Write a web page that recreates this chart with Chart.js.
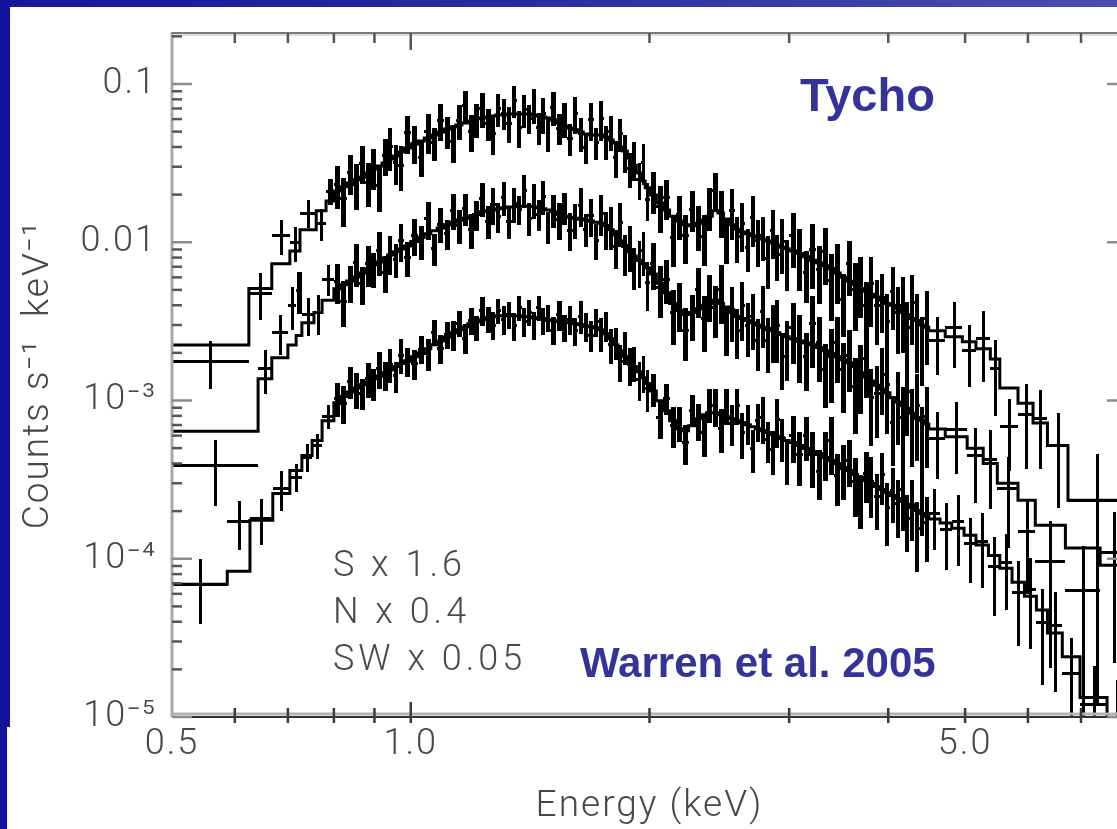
<!DOCTYPE html>
<html>
<head>
<meta charset="utf-8">
<script src="https://cdn.jsdelivr.net/npm/chart.js@4.4.1/dist/chart.umd.min.js"></script>
<style>
  html, body { margin: 0; padding: 0; background: #ffffff; overflow: hidden; width: 1117px; height: 829px; }
  #wrap { position: absolute; left: 0; top: 0; width: 1140px; height: 829px; }
  .frameTop { position: absolute; left: 0; top: 0; width: 1117px; height: 7px;
              background: linear-gradient(90deg, #16169a 0%, #2a2aa0 45%, #4d4dae 100%); }
  .frameLeft { position: absolute; left: 0; top: 0; width: 10px; height: 727px; background: #12129a; }
  .frameLeft2 { position: absolute; left: 0; top: 727px; width: 7px; height: 102px; background: #12129a; }
</style>
</head>
<body>
<div id="wrap"><canvas id="c" width="1140" height="829"></canvas></div>
<div class="frameTop"></div><div class="frameLeft"></div><div class="frameLeft2"></div>
<script>
// ---------------- DATA ----------------
// shared narrow bin edges (keV) of the densely sampled part of the spectra
const energyGrid = [
  0.800, 0.815, 0.830, 0.845, 0.860, 0.875, 0.890, 0.905, 0.920, 0.935, 0.950, 0.965, 0.980, 1.000,
  1.02, 1.04, 1.06, 1.08, 1.10, 1.12, 1.14, 1.16, 1.18, 1.20, 1.22, 1.24, 1.26, 1.28, 1.30,
  1.32, 1.34, 1.36, 1.38, 1.40, 1.42, 1.44, 1.46, 1.48, 1.50,
  1.525, 1.55, 1.575, 1.60, 1.625, 1.65, 1.675, 1.70, 1.725, 1.75, 1.775, 1.80, 1.825, 1.85,
  1.875, 1.90, 1.925, 1.95, 1.975, 2.00,
  2.04, 2.08, 2.12, 2.16, 2.20, 2.24, 2.28, 2.32, 2.36, 2.40, 2.44, 2.48, 2.52, 2.56, 2.60,
  2.64, 2.68, 2.72, 2.76, 2.80, 2.84, 2.88, 2.92, 2.96, 3.00,
  3.06, 3.12, 3.18, 3.24, 3.30, 3.36, 3.42, 3.48, 3.54, 3.60, 3.66, 3.72, 3.78, 3.84, 3.90,
  3.96, 4.02, 4.08, 4.14, 4.20, 4.26, 4.32, 4.38, 4.44, 4.50
];

// ---- S x 1.6 (upper spectrum) ----
const sLowEdges  = [0.5, 0.625, 0.668, 0.704, 0.725, 0.760, 0.782];
const sHighEdges = [4.72, 4.96, 5.16, 5.38, 5.53, 5.83, 6.09, 6.35, 6.74, 8.0];
const sModel = [
  0.00224, 0.0051, 0.0073, 0.0088, 0.0120, 0.0158, 0.0182,
  0.0211, 0.0224, 0.0237, 0.0248, 0.0258, 0.0274, 0.0290, 0.0303, 0.0317, 0.0336,
  0.0351, 0.0372, 0.0394, 0.0418, 0.0436, 0.0456, 0.0476, 0.0498, 0.0520, 0.0535,
  0.0551, 0.0567, 0.0584, 0.0602, 0.0610, 0.0619, 0.0628, 0.0637, 0.0637, 0.0646,
  0.0646, 0.0646, 0.0646, 0.0646, 0.0637, 0.0628, 0.0619, 0.0610, 0.0593, 0.0567,
  0.0543, 0.0528, 0.0513, 0.0498, 0.0483, 0.0476, 0.0476, 0.0476, 0.0462, 0.0442,
  0.0424, 0.0400, 0.0377, 0.0341, 0.0307, 0.0274, 0.0244, 0.0221, 0.0199, 0.0177,
  0.0160, 0.0146, 0.0136, 0.0129, 0.0127, 0.0132, 0.0138, 0.0146, 0.0158, 0.0153,
  0.0140, 0.0129, 0.0121, 0.0116, 0.0113, 0.0110, 0.0108, 0.0105, 0.0102, 0.0099,
  0.0096, 0.0093, 0.0091, 0.0088, 0.0085, 0.0081, 0.0077, 0.0074, 0.0071, 0.0068,
  0.0064, 0.0060, 0.0057, 0.0054, 0.0051, 0.0049, 0.0047, 0.0045, 0.0043, 0.0041,
  0.0040, 0.0038, 0.0036, 0.0035, 0.0033, 0.0032, 0.0030, 0.0029,
  0.00276, 0.00253, 0.00235, 0.00212, 0.00183, 0.00120, 0.00096, 0.00072, 0.00052, 0.000234
];
const sData = [
  0.00178, 0.0048, 0.0111, 0.0100, 0.0153, 0.0132, 0.0211,
  0.0233, 0.0190, 0.0277, 0.0235, 0.0319, 0.0241, 0.0300, 0.0231, 0.0355, 0.0405,
  0.0321, 0.0309, 0.0494, 0.0425, 0.0347, 0.0503, 0.0427, 0.0591, 0.0502, 0.0435,
  0.0588, 0.0741, 0.0505, 0.0602, 0.0703, 0.0566, 0.0489, 0.0702, 0.0659, 0.0569,
  0.0789, 0.0536, 0.0690, 0.0613, 0.0745, 0.0532, 0.0651, 0.0486, 0.0714, 0.0528,
  0.0608, 0.0456, 0.0653, 0.0490, 0.0401, 0.0600, 0.0427, 0.0610, 0.0438, 0.0502,
  0.0345, 0.0488, 0.0377, 0.0295, 0.0338, 0.0251, 0.0323, 0.0187, 0.0215, 0.0170,
  0.0192, 0.0108, 0.0150, 0.0111, 0.0163, 0.0129, 0.0110, 0.0169, 0.0215, 0.0159,
  0.0106, 0.0160, 0.0109, 0.0132, 0.0093, 0.0145, 0.0104, 0.0111, 0.0080, 0.0119,
  0.0084, 0.0102, 0.0076, 0.0111, 0.0085, 0.0065, 0.0091, 0.0068, 0.0088, 0.0058,
  0.0069, 0.0044, 0.0074, 0.0051, 0.0057, 0.0040, 0.0055, 0.0040, 0.0045, 0.0032,
  0.0049, 0.0036, 0.0040, 0.0029, 0.0042, 0.0031, 0.0023, 0.0033,
  0.0024, 0.0029, 0.0021, 0.0025, 0.0016, 0.00069, 0.00082, 0.00077, 0.00052, 0.000234
];
const sErrPct = [
  34, 33, 25, 25, 20, 23, 19,
  30, 34, 28, 32, 27, 31, 29, 33, 26, 30, 28, 32, 27,
  27, 25, 28, 24, 26, 23, 27, 25, 22, 26, 24, 25, 23, 27, 24, 22, 25, 23, 26, 24, 21, 25, 23, 26, 24,
  24, 22, 25, 23, 26, 24, 22, 27, 23, 28, 24, 25, 26, 24, 27, 25, 28, 26, 29, 27,
  30, 33, 28, 35, 31, 34, 29, 32, 36, 30, 27, 33, 31, 35, 32, 34, 30, 36, 33, 31, 37, 34, 32, 38, 35,
  38, 42, 36, 44, 40, 39, 45, 41, 43, 38, 46, 42, 40, 47, 44, 41, 48, 43, 45, 50, 44, 47, 52, 46, 49,
  40, 45, 42, 48, 50, 48, 55, 52, 60, 95
];

// ---- N x 0.4 (middle spectrum) ----
const nLowEdges  = [0.5, 0.642, 0.668, 0.700, 0.717, 0.729, 0.755, 0.773];
const nHighEdges = [4.72, 5.03, 5.27, 5.49, 5.83, 6.13, 6.69, 7.40, 8.0];
const nModel = [
  0.00064, 0.00137, 0.00186, 0.00224, 0.00257, 0.0031, 0.0036, 0.0043,
  0.00508, 0.00538, 0.00570, 0.00604, 0.00640, 0.00679, 0.00720, 0.00751, 0.00796, 0.00832,
  0.00870, 0.00908, 0.00948, 0.0101, 0.0107, 0.0113, 0.0118, 0.0123, 0.0129, 0.0134,
  0.0138, 0.0142, 0.0146, 0.0150, 0.0156, 0.0158, 0.0160, 0.0163, 0.0165, 0.0167,
  0.0167, 0.0169, 0.0169, 0.0169, 0.0167, 0.0165, 0.0163, 0.0160, 0.0156, 0.0150,
  0.0146, 0.0144, 0.0142, 0.0140, 0.0138, 0.0136, 0.0134, 0.0132, 0.0127, 0.0120,
  0.0111, 0.0102, 0.0094, 0.0087, 0.0082, 0.0077, 0.0073, 0.0069, 0.0063, 0.0055,
  0.0048, 0.0041, 0.0037, 0.0035, 0.0036, 0.0038, 0.0040, 0.0041, 0.0043, 0.0041,
  0.0039, 0.0036, 0.0034, 0.0033, 0.0032, 0.0031, 0.0030, 0.0029, 0.0028, 0.00276,
  0.00268, 0.00261, 0.00253, 0.00246, 0.00238, 0.00231, 0.00225, 0.00216, 0.00206, 0.00198,
  0.00189, 0.00181, 0.00173, 0.00164, 0.00150, 0.00141, 0.00133, 0.00125, 0.00118, 0.00112,
  0.00104, 0.00098, 0.00093, 0.00089, 0.00083, 0.00078, 0.00075, 0.00071,
  0.00066, 0.00059, 0.00050, 0.00040, 0.00030, 0.000234, 0.000163, 0.000117, 0.000091
];
const nData = [
  0.00039, 0.0016, 0.0027, 0.0040, 0.0050, 0.0035, 0.0036, 0.0059,
  0.00568, 0.00428, 0.00560, 0.00748, 0.00553, 0.00737, 0.00683, 0.00891, 0.00647, 0.00860,
  0.00781, 0.01031, 0.00803, 0.0111, 0.0102, 0.0142, 0.0092, 0.0131, 0.0114, 0.0161,
  0.0129, 0.0164, 0.0121, 0.0150, 0.0190, 0.0137, 0.0174, 0.0146, 0.0193, 0.0136,
  0.0176, 0.0163, 0.0215, 0.0143, 0.0187, 0.0151, 0.0196, 0.0127, 0.0161, 0.0140,
  0.0166, 0.0120, 0.0140, 0.0173, 0.0122, 0.0148, 0.0104, 0.0154, 0.0123, 0.0128,
  0.0094, 0.0135, 0.0086, 0.0096, 0.0071, 0.0077, 0.0089, 0.0056, 0.0074, 0.0052,
  0.0059, 0.0036, 0.0041, 0.0028, 0.0035, 0.0051, 0.0033, 0.0047, 0.0039, 0.0051,
  0.0029, 0.0038, 0.0028, 0.0040, 0.0030, 0.0034, 0.0024, 0.0037, 0.0024, 0.00288,
  0.00302, 0.00190, 0.00226, 0.00292, 0.00238, 0.00192, 0.00310, 0.00234, 0.00158, 0.00190,
  0.00233, 0.00158, 0.00195, 0.00123, 0.00153, 0.00185, 0.00105, 0.00112, 0.00148, 0.00128,
  0.00073, 0.00102, 0.00079, 0.00115, 0.00078, 0.00094, 0.00061, 0.00080,
  0.00058, 0.00066, 0.00045, 0.00043, 0.00028, 0.00015, 0.0000965, 0.0000634, 0.00011
];
const nErrPct = [
  45, 31, 28, 30, 30, 27, 28, 22,
  28, 32, 26, 30, 27, 29, 25, 31, 26, 28, 24, 27, 25,
  26, 24, 27, 23, 25, 22, 26, 24, 23, 25, 22, 24, 23, 26, 22, 24, 23, 25, 21, 24, 23, 25, 22, 24, 23,
  24, 26, 23, 27, 25, 28, 24, 27, 26, 29, 27, 30, 28, 31, 29, 32, 30, 33, 31, 34,
  33, 36, 31, 38, 34, 37, 32, 35, 39, 33, 36, 40, 34, 38, 35, 41, 37, 39, 36, 42, 38, 40, 43, 39, 41,
  42, 46, 40, 48, 44, 43, 49, 45, 47, 42, 50, 46, 44, 51, 48, 45, 52, 47, 49, 54, 48, 51, 56, 50, 53,
  45, 48, 50, 52, 58, 60, 79, 90, 80
];

// ---- SW x 0.05 (lower spectrum) ----
const swLowEdges  = [0.5, 0.587, 0.627, 0.670, 0.704, 0.729, 0.751, 0.773];
const swHighEdges = [4.65, 4.81, 4.985, 5.16, 5.35, 5.53, 5.73, 5.94, 6.15, 6.35, 6.63, 6.98, 7.55, 8.0];
const swModel = [
  0.000069, 0.0000835, 0.000175, 0.000258, 0.000361, 0.000449, 0.000558, 0.000745,
  0.000967, 0.00106, 0.00113, 0.00120, 0.00126, 0.00131, 0.00137, 0.00143, 0.00150, 0.00156,
  0.00164, 0.00171, 0.00178, 0.00189, 0.00200, 0.00212, 0.00225, 0.00238, 0.00252, 0.00268,
  0.00280, 0.00292, 0.00305, 0.00315, 0.00324, 0.00333, 0.00338, 0.00343, 0.00343, 0.00343,
  0.00343, 0.00343, 0.00338, 0.00338, 0.00333, 0.00329, 0.00329, 0.00324, 0.00319, 0.00315,
  0.00310, 0.00310, 0.00305, 0.00301, 0.00296, 0.00292, 0.00288, 0.00280, 0.00264, 0.00246,
  0.00225, 0.00206, 0.00189, 0.00176, 0.00164, 0.00152, 0.00139, 0.00128, 0.00115, 0.000996,
  0.000862, 0.000745, 0.000664, 0.000645, 0.000693, 0.000767, 0.000813, 0.000837, 0.000837, 0.000813,
  0.000790, 0.000767, 0.000745, 0.000724, 0.000703, 0.000683, 0.000664, 0.000645, 0.000627, 0.000609,
  0.000591, 0.000574, 0.000558, 0.000542, 0.000519, 0.000497, 0.000476, 0.000456, 0.000436, 0.000417,
  0.000400, 0.000377, 0.000361, 0.000341, 0.000327, 0.000312, 0.000299, 0.000286, 0.000274, 0.000262,
  0.000251, 0.000240, 0.000230, 0.000220, 0.000211, 0.000202, 0.000193, 0.000185,
  0.000178, 0.000168, 0.000156, 0.000141, 0.000122, 0.000105, 0.000087, 0.000071, 0.000058,
  0.0000474, 0.000034, 0.000024, 0.0000133, 0.0000077
];
const swData = [
  0.000069, 0.000172, 0.000180, 0.000280, 0.000330, 0.000440, 0.000520, 0.000800,
  0.00104, 0.000967, 0.00133, 0.00119, 0.00112, 0.00138, 0.00128, 0.00160, 0.00145, 0.00170,
  0.00144, 0.00195, 0.00178, 0.00172, 0.00213, 0.00200, 0.00272, 0.00214, 0.00263, 0.00262,
  0.00311, 0.00250, 0.00322, 0.00291, 0.00374, 0.00329, 0.00301, 0.00373, 0.00328, 0.00351,
  0.00298, 0.00388, 0.00319, 0.00364, 0.00300, 0.00387, 0.00322, 0.00335, 0.00280, 0.00350,
  0.00290, 0.00327, 0.00278, 0.00344, 0.00296, 0.00260, 0.00317, 0.00268, 0.00299, 0.00227,
  0.00235, 0.00177, 0.00220, 0.00170, 0.00175, 0.00137, 0.00151, 0.00120, 0.00119, 0.000788,
  0.00104, 0.000703, 0.000727, 0.000547, 0.000877, 0.000752, 0.000628, 0.000948, 0.000932, 0.000674,
  0.000940, 0.000723, 0.000943, 0.000628, 0.000730, 0.000501, 0.000752, 0.000792, 0.000567, 0.000493,
  0.000759, 0.000585, 0.000431, 0.000604, 0.000460, 0.000601, 0.000458, 0.000361, 0.000469, 0.000560,
  0.000339, 0.000377, 0.000423, 0.000309, 0.000246, 0.000348, 0.000310, 0.000248, 0.000342, 0.000212,
  0.000270, 0.000226, 0.000274, 0.000182, 0.000223, 0.000156, 0.000237, 0.000171,
  0.000195, 0.000155, 0.000172, 0.000125, 0.000130, 0.000090, 0.000095, 0.000062, 0.000064,
  0.000040, 0.000038, 0.000019, 0.000012, 0.000009
];
const swErrPct = [
  44, 34, 32, 28, 20, 20, 18, 17,
  24, 27, 23, 26, 22, 25, 23, 26, 21, 24, 22, 25, 21,
  22, 20, 23, 19, 21, 20, 22, 19, 21, 20, 18, 21, 19, 20, 18, 21, 19, 20, 18, 21, 19, 20, 18, 20, 19,
  20, 22, 19, 21, 20, 23, 21, 22, 20, 24, 22, 25, 23, 26, 24, 27, 25, 28, 26, 29,
  24, 27, 22, 29, 25, 28, 23, 26, 30, 24, 27, 31, 25, 29, 26, 32, 28, 30, 27, 33, 29, 31, 34, 30, 32,
  33, 37, 31, 39, 35, 34, 40, 36, 38, 33, 41, 37, 35, 42, 39, 36, 43, 38, 40, 45, 39, 42, 47, 41, 44,
  42, 45, 48, 44, 50, 52, 50, 55, 58, 60, 62, 65, 75, 90
];

// ---- axes / labels ----
const xRange = [0.5, 8.0];
const yRange = [1e-5, 0.21];
const xTickValues = [0.5, 0.6, 0.7, 0.8, 0.9, 1, 2, 3, 4, 5, 6, 7, 8];
const xLabelValues = [0.5, 1, 5];
const xLabelTexts = ['0.5', '1.0', '5.0'];
const yDecades = [1e-5, 1e-4, 1e-3, 1e-2, 1e-1];
const yLabelTexts = ['10\u207B\u2075', '10\u207B\u2074', '10\u207B\u00B3', '0.01', '0.1'];
const scaleNotes = ['S x 1.6', 'N x 0.4', 'SW x 0.05'];

// ---------------- BUILD ----------------
const INK = '#000000';
const LW = 3;

function spectrum(name, low, high, model, data, err) {
  const edges = low.concat(energyGrid, high);
  const modelPts = model.map((v, i) => ({ x: edges[i], y: v }));
  modelPts.push({ x: edges[edges.length - 1], y: model[model.length - 1] });
  const dataPts = data.map((v, i) => ({ x: Math.sqrt(edges[i] * edges[i + 1]), y: v }));
  return [
    { label: name + ' model', data: modelPts, showLine: true, stepped: true,
      borderColor: INK, borderWidth: LW, pointRadius: 0, clip: 0 },
    { label: name + ' data', data: dataPts, showLine: false, pointRadius: 0,
      bins: { edges: edges, values: data, errPct: err } }
  ];
}

const datasets = [].concat(
  spectrum('S', sLowEdges, sHighEdges, sModel, sData, sErrPct),
  spectrum('N', nLowEdges, nHighEdges, nModel, nData, nErrPct),
  spectrum('SW', swLowEdges, swHighEdges, swModel, swData, swErrPct)
);

const labelFont = { family: 'Roboto, "Liberation Sans", "DejaVu Sans", sans-serif', size: 36, weight: 300, lineHeight: 1 };
const titleFont = { family: 'Roboto, "Liberation Sans", "DejaVu Sans", sans-serif', size: 37, weight: 300, lineHeight: 1 };
const TXT = '#474747';

function line(ctx, x0, y0, x1, y1) { ctx.beginPath(); ctx.moveTo(x0, y0); ctx.lineTo(x1, y1); ctx.stroke(); }

// crisp error-bar crosses; in the narrow-bin part the vertical strokes are widened so that
// neighbouring bars merge into the solid band seen in the original plot
const errorBars = {
  id: 'errorBars',
  afterDatasetsDraw(chart) {
    const { ctx, chartArea: a, scales: { x, y } } = chart;
    ctx.save();
    ctx.beginPath(); ctx.rect(a.left, a.top, a.right - a.left, a.bottom - a.top); ctx.clip();
    ctx.fillStyle = INK;
    chart.data.datasets.forEach(ds => {
      if (!ds.bins) return;
      const { edges, values, errPct } = ds.bins;
      for (let i = 0; i < values.length; i++) {
        const px0 = x.getPixelForValue(edges[i]);
        const px1 = x.getPixelForValue(edges[i + 1]);
        const x0 = Math.round(px0), x1 = Math.round(px1);
        const xc = Math.round(x.getPixelForValue(Math.sqrt(edges[i] * edges[i + 1])));
        const v = values[i], e = v * errPct[i] / 100;
        const yc = Math.round(y.getPixelForValue(v));
        const yt = Math.round(y.getPixelForValue(v + e));
        const yb = (v - e) > 0 ? Math.round(Math.min(y.getPixelForValue(v - e), a.bottom + 20)) : a.bottom + 20;
        const bw = px1 - px0;
        const w = bw <= 8 ? Math.max(3, Math.min(5, Math.round(bw) - 1)) : 3;
        ctx.fillRect(x0, yc - 1, x1 - x0, 3);                 // energy bin (horizontal bar)
        ctx.fillRect(xc - Math.floor(w / 2), yt, w, yb - yt); // counts error (vertical bar)
      }
    });
    ctx.restore();
  }
};

const axisFrame = {
  id: 'axisFrame',
  beforeDraw(chart) { chart.ctx.letterSpacing = '2px'; },
  afterDatasetsDraw(chart) {
    const { ctx, chartArea: a, scales: { x, y } } = chart;
    ctx.save();
    ctx.letterSpacing = '0px';
    ctx.lineCap = 'butt';
    // axis box
    ctx.strokeStyle = '#a8a8a8'; ctx.lineWidth = 3; line(ctx, a.left, a.top - 1, a.left, a.bottom);
    ctx.strokeStyle = '#7a7a7a'; ctx.lineWidth = 2; line(ctx, a.left, a.top, a.right, a.top);
    ctx.strokeStyle = '#d6d6d6'; ctx.lineWidth = 1.5; line(ctx, a.left + 2, a.top + 2, a.right, a.top + 2);
    ctx.strokeStyle = '#b4b4b4'; ctx.lineWidth = 3; line(ctx, a.left, a.bottom - 3, a.right, a.bottom - 3);
    ctx.strokeStyle = '#333333'; ctx.lineWidth = 2.2; line(ctx, a.left, a.bottom, a.right, a.bottom);
    ctx.strokeStyle = '#8a8a8a'; ctx.lineWidth = 2; line(ctx, a.right, a.top, a.right, a.bottom);
    // x ticks (top and bottom)
    ctx.lineWidth = 2.5;
    xTickValues.forEach(v => {
      if (v === xRange[0] || v === xRange[1]) return;
      const px = x.getPixelForValue(v);
      const major = v === 1;
      ctx.strokeStyle = '#555555';
      line(ctx, px, a.top, px, a.top + (major ? 17 : 10));
      ctx.strokeStyle = '#3a3a3a';
      line(ctx, px, a.bottom + 6, px, a.bottom - (major ? 15 : 9));
    });
    // y ticks (left and right)
    yDecades.forEach(d => {
      for (let k = 1; k < 10; k++) {
        const v = d * k;
        if (v > y.max) break;
        const py = y.getPixelForValue(v);
        const len = k === 1 ? 20 : 10;
        ctx.strokeStyle = k === 1 ? '#8c8c8c' : '#555555';
        line(ctx, a.left, py, a.left + len, py);
        line(ctx, a.right, py, a.right - len, py);
      }
    });
    ctx.restore();
  },
  afterDraw(chart) {
    const { ctx, chartArea: a } = chart;
    ctx.save();
    ctx.textBaseline = 'alphabetic';
    ctx.textAlign = 'left';
    // blue titles
    ctx.letterSpacing = '0px';
    ctx.fillStyle = '#333399';
    ctx.font = 'bold 47px "Liberation Sans", Arial, Helvetica, sans-serif';
    ctx.fillText('Tycho', a.left + 628, 111);
    ctx.font = 'bold 42px "Liberation Sans", Arial, Helvetica, sans-serif';
    ctx.fillText('Warren et al. 2005', a.left + 408, 677);
    // scale factors
    ctx.fillStyle = '#4a4a4a';
    ctx.font = '300 36px Roboto, "Liberation Sans", sans-serif';
    ctx.letterSpacing = '4px';
    const ys = [576, 623, 670];
    scaleNotes.forEach((t, i) => ctx.fillText(t, a.left + 161, ys[i]));
    ctx.restore();
    ctx.letterSpacing = '0px';
  }
};

new Chart(document.getElementById('c'), {
  type: 'scatter',
  data: { datasets },
  options: {
    responsive: false,
    animation: false,
    devicePixelRatio: 1,
    events: [],
    layout: { padding: { left: 0, top: 33, right: 13, bottom: 0 } },
    plugins: { legend: { display: false }, tooltip: { enabled: false } },
    scales: {
      x: {
        type: 'logarithmic', min: xRange[0], max: xRange[1], bounds: 'data',
        grid: { display: false, drawTicks: false }, border: { display: false },
        afterBuildTicks: s => { s.ticks = xTickValues.map(v => ({ value: v })); },
        afterFit: s => { s.height = 112; s.paddingLeft = 0; s.paddingRight = 0; },
        ticks: {
          autoSkip: false, maxRotation: 0, minRotation: 0, padding: 10, color: TXT, font: labelFont,
          callback: v => { const i = xLabelValues.findIndex(q => Math.abs(q - v) < 1e-9); return i >= 0 ? xLabelTexts[i] : ''; }
        },
        title: { display: true, text: 'Energy (keV)', color: TXT, font: titleFont, padding: { top: 0, bottom: 4 } }
      },
      y: {
        type: 'logarithmic', min: yRange[0], max: yRange[1], bounds: 'data',
        grid: { display: false, drawTicks: false }, border: { display: false },
        afterBuildTicks: s => { s.ticks = yDecades.map(v => ({ value: v })); },
        afterFit: s => { s.width = 172; s.paddingTop = 0; s.paddingBottom = 0; },
        ticks: {
          autoSkip: false, padding: 15, color: TXT, font: labelFont,
          callback: v => { const i = yDecades.findIndex(d => Math.abs(Math.log10(d) - Math.log10(v)) < 1e-6); return i >= 0 ? yLabelTexts[i] : ''; }
        },
        title: { display: true, text: 'Counts s\u207B\u00B9  keV\u207B\u00B9', color: TXT, font: titleFont, padding: { top: 20, bottom: 0 } }
      }
    }
  },
  plugins: [errorBars, axisFrame]
});
</script>
</body>
</html>
